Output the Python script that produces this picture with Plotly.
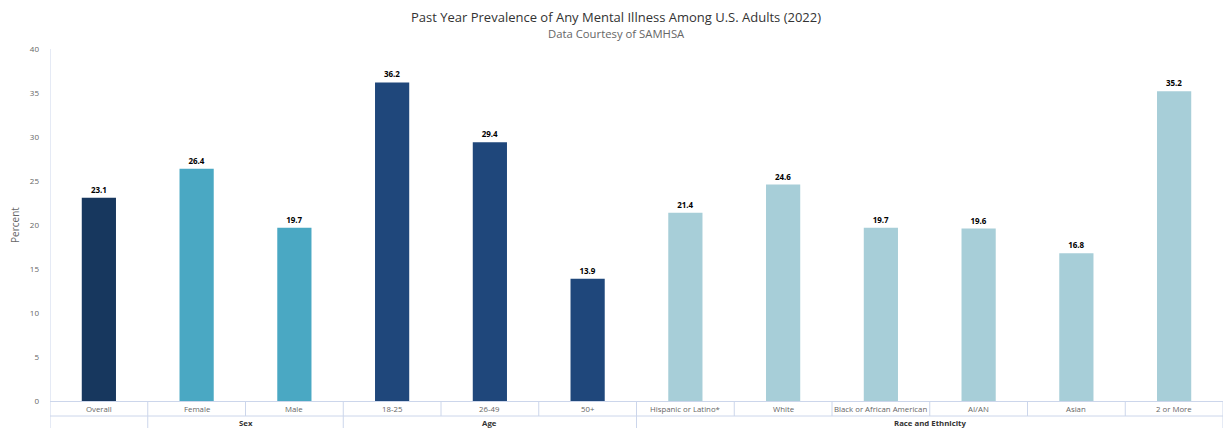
import plotly.graph_objects as go

categories = ["Overall", "Female", "Male", "18-25", "26-49", "50+",
              "Hispanic or Latino*", "White", "Black or African American",
              "AI/AN", "Asian", "2 or More"]
values = [23.1, 26.4, 19.7, 36.2, 29.4, 13.9, 21.4, 24.6, 19.7, 19.6, 16.8, 35.2]
group_names = ["", "Sex", "Age", "Race and Ethnicity"]
group_sizes = [1, 2, 3, 6]
group_colors = ["#17375e", "#4aa8c3", "#1f477b", "#a7ced8"]
y_ticks = [0, 5, 10, 15, 20, 25, 30, 35, 40]

bar_colors = []
for c, n in zip(group_colors, group_sizes):
    bar_colors += [c] * n

x = list(range(len(categories)))
FONT = "Open Sans"

fig = go.Figure(go.Bar(
    x=x, y=values, width=0.35,
    marker=dict(color=bar_colors, line=dict(width=0)),
    text=[f"{v:.1f}" for v in values], textposition="outside",
    textfont=dict(family=FONT, size=8, color="#000000", weight="bold"),
    cliponaxis=False, hoverinfo="skip",
))

W, H = 1232, 428
L, R, T, B = 50, 9, 49, 27
plot_h = H - T - B
plot_w = W - L - R
row1 = 15 / plot_h
row2 = 30 / plot_h
LINE = "#ccd6eb"


def py(pix):
    return (H - B - pix) / plot_h


page_center_x = (W / 2 - L) / plot_w

shapes = []
annotations = []
for i, cat in enumerate(categories):
    annotations.append(dict(x=i, y=-row1 / 2, xref="x", yref="paper", text=cat,
                            showarrow=False, yanchor="middle",
                            font=dict(family=FONT, size=7.8, color="#666666")))
for b in [i - 0.5 for i in range(len(categories) + 1)]:
    shapes.append(dict(type="line", xref="x", yref="paper", x0=b, x1=b, y0=0, y1=-row1,
                       line=dict(color=LINE, width=1)))
start = 0
bounds = [-0.5]
for g, n in zip(group_names, group_sizes):
    center = start + (n - 1) / 2
    if g:
        annotations.append(dict(x=center, y=-row1 - (row2 - row1) / 2 + 0.002, xref="x", yref="paper",
                                text=f"<b>{g}</b>", showarrow=False, yanchor="middle",
                                font=dict(family=FONT, size=7.8, color="#333333")))
    start += n
    bounds.append(start - 0.5)
for b in bounds:
    shapes.append(dict(type="line", xref="x", yref="paper", x0=b, x1=b, y0=-row1, y1=-row2 - 0.01,
                       line=dict(color=LINE, width=1)))
shapes.append(dict(type="line", xref="x", yref="paper", x0=-0.5, x1=len(categories) - 0.5,
                   y0=-row1, y1=-row1, line=dict(color=LINE, width=1)))
shapes.append(dict(type="line", xref="x", yref="paper", x0=-0.5, x1=-0.5,
                   y0=0, y1=1, line=dict(color=LINE, width=1)))

annotations.append(dict(x=page_center_x, y=py(17), xref="paper", yref="paper",
                        text="Past Year Prevalence of Any Mental Illness Among U.S. Adults (2022)",
                        showarrow=False, yanchor="middle",
                        font=dict(family=FONT, size=13, color="#333333")))
annotations.append(dict(x=page_center_x, y=py(34), xref="paper", yref="paper",
                        text="Data Courtesy of SAMHSA", showarrow=False, yanchor="middle",
                        font=dict(family=FONT, size=11.3, color="#666666")))

fig.update_layout(
    width=W, height=H,
    margin=dict(l=L, r=R, t=T, b=B),
    plot_bgcolor="white", paper_bgcolor="white",
    showlegend=False,
    shapes=shapes, annotations=annotations,
    xaxis=dict(range=[-0.5, len(categories) - 0.5], showticklabels=False, showgrid=False,
               zeroline=False, showline=True, linecolor=LINE, linewidth=1, ticks=""),
    yaxis=dict(range=[0, 40], tickvals=y_ticks, showgrid=False, zeroline=False,
               showline=False, ticks="", ticklabelstandoff=10, automargin=False,
               tickfont=dict(family=FONT, size=8, color="#666666"),
               title=dict(text="Percent", standoff=8,
                          font=dict(family=FONT, size=10, color="#666666"))),
)

fig.write_html("out.html", config={"displayModeBar": False},
               post_script="document.body.style.margin='0';document.body.style.overflow='hidden';")
